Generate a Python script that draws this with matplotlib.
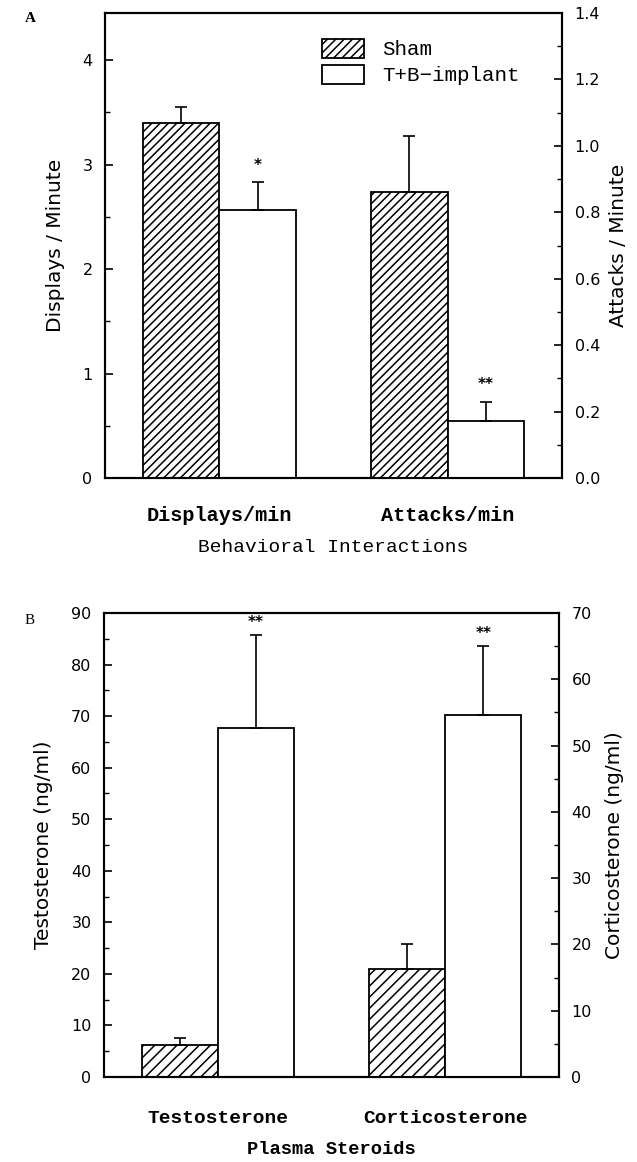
import numpy as np
import matplotlib
matplotlib.use("Agg")
import matplotlib.pyplot as plt
from matplotlib.ticker import MultipleLocator, FormatStrFormatter

# Panel A: behavioral interactions
behav_groups = ["Displays/min", "Attacks/min"]
displays_mean = [3.40, 2.56]      # sham, implant (left axis)
displays_err = [0.15, 0.27]
attacks_mean = [0.86, 0.172]      # sham, implant (right axis)
attacks_err = [0.17, 0.057]
behav_stars = ["", "*"], ["", "**"]

# Panel B: plasma steroids
steroid_groups = ["Testosterone", "Corticosterone"]
testo_mean = [6.2, 67.7]          # sham, implant (left axis)
testo_err = [1.3, 18.0]
cort_mean = [16.3, 54.6]          # sham, implant (right axis)
cort_err = [3.7, 10.4]
steroid_stars = ["", "**"], ["", "**"]

series = ["Sham", "T+B\u2212implant"]

plt.rcParams["hatch.linewidth"] = 1.1
plt.rcParams["font.family"] = "DejaVu Sans"

mono = "Liberation Mono"
W = 0.335
x = np.arange(2)

fig = plt.figure(figsize=(6.37, 11.62), dpi=100)


def style_axis(a, right=False):
    for s in a.spines.values():
        s.set_linewidth(1.5)
    a.tick_params(axis="y", which="major", direction="in", length=6, width=1.2,
                  labelsize=11.5, pad=9, left=not right, right=right,
                  labelleft=not right, labelright=right)
    a.tick_params(axis="y", which="minor", direction="in", length=3.5, width=1.0,
                  left=not right, right=right)


def draw_pair(ax, ax2, left_mean, left_err, right_mean, right_err, stars, hatch,
              star_off=7):
    bars = []
    # group 0 on left axis, group 1 on right axis
    for i, (a, m, e) in enumerate([(ax, left_mean, left_err), (ax2, right_mean, right_err)]):
        xs = [x[i] - W / 2, x[i] + W / 2]
        b0 = a.bar(xs[0], m[0], W, facecolor="white", edgecolor="black",
                   linewidth=1.3, hatch=hatch, zorder=2)
        b1 = a.bar(xs[1], m[1], W, facecolor="white", edgecolor="black",
                   linewidth=1.3, zorder=2)
        a.errorbar(xs, m, yerr=[[0, 0], e], fmt="none", ecolor="black",
                   elinewidth=1.2, capsize=4, capthick=1.2, zorder=3)
        for j in range(2):
            if stars[i][j]:
                a.annotate(stars[i][j], (xs[j], m[j] + e[j]), xytext=(0, star_off),
                           textcoords="offset points", ha="center", va="bottom",
                           fontsize=11, fontweight="bold")
        bars = [b0, b1]
    return bars


# ---------- Panel A ----------
axA = fig.add_axes([105 / 637, 1 - 478 / 1162, 457 / 637, 465 / 1162])
axA2 = axA.twinx()
handles = draw_pair(axA, axA2, displays_mean, displays_err, attacks_mean,
                    attacks_err, behav_stars, "////")
axA.set_xlim(-0.5, 1.5)
axA.set_ylim(0, 4.45)
axA2.set_ylim(0, 1.4)
axA.yaxis.set_major_locator(MultipleLocator(1))
axA.yaxis.set_minor_locator(MultipleLocator(0.5))
axA2.yaxis.set_major_locator(MultipleLocator(0.2))
axA2.yaxis.set_minor_locator(MultipleLocator(0.1))
axA2.yaxis.set_major_formatter(FormatStrFormatter("%.1f"))
style_axis(axA)
style_axis(axA2, right=True)
axA.set_xticks(x)
axA.set_xticklabels(behav_groups, fontfamily=mono, fontweight="bold", fontsize=14.5)
axA.tick_params(axis="x", length=0, pad=20)
axA.set_xlabel("Behavioral Interactions", fontfamily=mono, fontsize=14, labelpad=10)
axA.set_ylabel("Displays / Minute", fontsize=14.5, va="center")
axA.yaxis.set_label_coords(-0.109, 0.5)
axA2.set_ylabel("Attacks / Minute", fontsize=14.5, va="center")
axA2.yaxis.set_label_coords(1.123, 0.5)
axA2.legend(handles, series, loc="upper left", bbox_to_anchor=(0.475, 0.945),
            frameon=False, prop={"family": mono, "size": 15},
            handlelength=2.0, handleheight=1.05, handletextpad=0.9,
            labelspacing=0.25, borderpad=0, borderaxespad=0)
fig.text(25 / 637, 1 - 18 / 1162, "A", fontfamily="Liberation Serif",
         fontweight="bold", fontsize=11, ha="left", va="center")

# ---------- Panel B ----------
axB = fig.add_axes([104 / 637, 1 - 1077 / 1162, 455 / 637, 464 / 1162])
axB2 = axB.twinx()
draw_pair(axB, axB2, testo_mean, testo_err, cort_mean, cort_err, steroid_stars, "///",
          star_off=4)
axB.set_xlim(-0.5, 1.5)
axB.set_ylim(0, 90)
axB2.set_ylim(0, 70)
axB.yaxis.set_major_locator(MultipleLocator(10))
axB.yaxis.set_minor_locator(MultipleLocator(5))
axB2.yaxis.set_major_locator(MultipleLocator(10))
axB2.yaxis.set_minor_locator(MultipleLocator(5))
style_axis(axB)
style_axis(axB2, right=True)
axB.set_xticks(x)
axB.set_xticklabels(steroid_groups, fontfamily=mono, fontweight="bold", fontsize=14)
axB.tick_params(axis="x", length=0, pad=24)
axB.set_xlabel("Plasma Steroids", fontfamily=mono, fontweight="bold", fontsize=13.5,
               labelpad=10)
axB.set_ylabel("Testosterone (ng/ml)", fontsize=14.5, va="center")
axB.yaxis.set_label_coords(-0.132, 0.5)
axB2.set_ylabel("Corticosterone (ng/ml)", fontsize=14.5, va="center")
axB2.yaxis.set_label_coords(1.123, 0.5)
fig.text(25 / 637, 1 - 621 / 1162, "B", fontfamily="Liberation Serif",
         fontsize=11, ha="left", va="center")

fig.savefig("out.png", dpi=100)
